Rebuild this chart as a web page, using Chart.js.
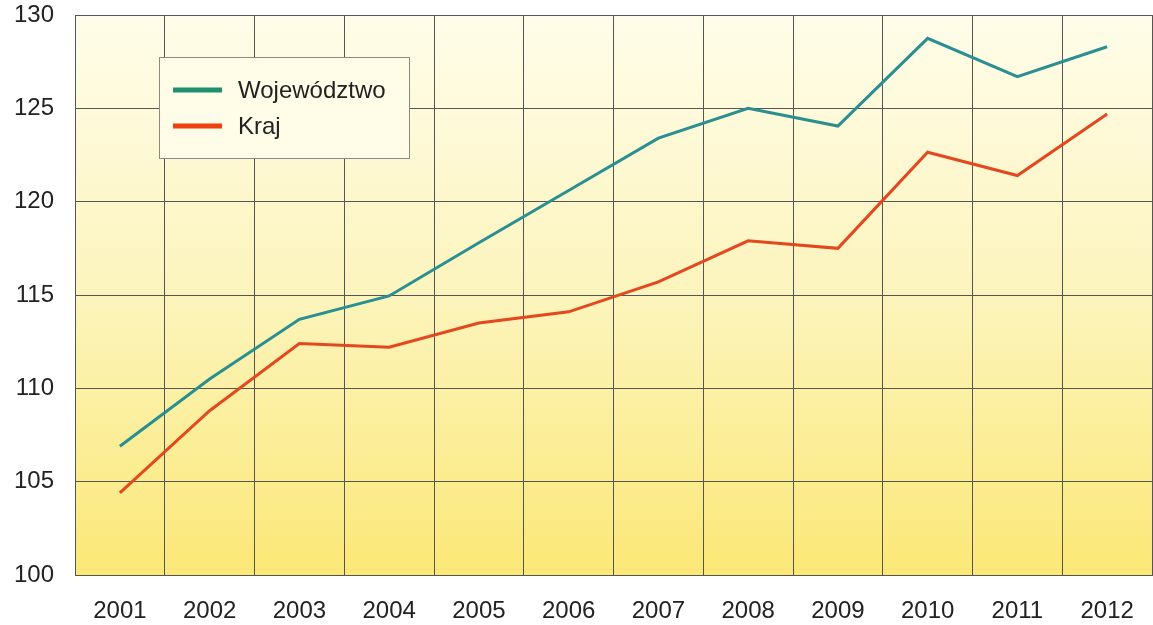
<!DOCTYPE html>
<html>
<head>
<meta charset="utf-8">
<script src="https://cdn.jsdelivr.net/npm/chart.js@4/dist/chart.umd.min.js"></script>
<style>
  html, body { margin: 0; padding: 0; background: #fff; }
  #wrap { width: 1153px; height: 625px; }
</style>
</head>
<body>
<div id="wrap"><canvas id="chart"></canvas></div>
<script>
const years = ['2001', '2002', '2003', '2004', '2005', '2006', '2007', '2008', '2009', '2010', '2011', '2012'];
const wojewodztwo = [106.9, 110.5, 113.7, 114.95, 117.8, 120.6, 123.4, 125.0, 124.05, 128.75, 126.7, 128.3];
const kraj = [104.4, 108.8, 112.4, 112.2, 113.5, 114.1, 115.7, 117.9, 117.5, 122.65, 121.4, 124.7];
const yTicks = [100, 105, 110, 115, 120, 125, 130];

const FONT = '"Liberation Sans", Arial, sans-serif';

// plot background: cream at the top, yellow at the bottom
const plotBackground = {
  id: 'plotBackground',
  beforeDraw(chart) {
    const { ctx, chartArea: a } = chart;
    const g = ctx.createLinearGradient(0, a.top, 0, a.bottom);
    g.addColorStop(0, '#fffdea');
    g.addColorStop(0.5, '#fcf4bc');
    g.addColorStop(1, '#fbe877');
    ctx.save();
    ctx.fillStyle = g;
    ctx.fillRect(a.left, a.top, a.right - a.left, a.bottom - a.top);
    ctx.restore();
  }
};

// boxed legend inside the plot
const boxLegend = {
  id: 'boxLegend',
  afterDatasetsDraw(chart) {
    const ctx = chart.ctx;
    const x = 159, y = 57, w = 250, h = 101;
    ctx.save();
    ctx.fillStyle = '#fffde8';
    ctx.strokeStyle = '#8a8a80';
    ctx.lineWidth = 1;
    ctx.fillRect(x, y, w, h);
    ctx.strokeRect(x + 0.5, y + 0.5, w, h);
    const colors = ['#1f8f70', '#ee4010'];
    chart.data.datasets.forEach((ds, i) => {
      const ly = 90 + i * 36;
      ctx.fillStyle = colors[i];
      ctx.fillRect(173, ly - 2.5, 49, 5);
      ctx.fillStyle = '#222';
      ctx.font = '24px ' + FONT;
      ctx.textBaseline = 'middle';
      ctx.fillText(ds.label, 238, ly + 1);
    });
    ctx.restore();
  }
};

new Chart(document.getElementById('chart'), {
  type: 'line',
  data: {
    labels: years,
    datasets: [
      {
        label: 'Województwo',
        data: wojewodztwo,
        borderColor: '#2a8f90',
        borderWidth: 3,
        pointRadius: 0,
        tension: 0
      },
      {
        label: 'Kraj',
        data: kraj,
        borderColor: '#e4481e',
        borderWidth: 3,
        pointRadius: 0,
        tension: 0
      }
    ]
  },
  options: {
    responsive: true,
    maintainAspectRatio: false,
    animation: false,
    layout: { padding: { top: 15, right: 1, left: 0, bottom: 0 } },
    plugins: {
      legend: { display: false },
      tooltip: { enabled: false }
    },
    scales: {
      x: {
        offset: true,
        grid: { offset: true, color: '#555', lineWidth: 1, drawTicks: false },
        border: { color: '#555' },
        ticks: { color: '#222', font: { family: FONT, size: 24 }, padding: 22, maxRotation: 0 },
        afterFit(scale) {
          scale.height = 50;
          scale.paddingLeft = 0;
          scale.paddingRight = 0;
        }
      },
      y: {
        min: 100,
        max: 130,
        afterBuildTicks(scale) { scale.ticks = yTicks.map(v => ({ value: v })); },
        grid: { color: '#555', lineWidth: 1, drawTicks: false },
        border: { color: '#555' },
        ticks: { color: '#222', font: { family: FONT, size: 24 }, padding: 21 },
        afterFit(scale) {
          scale.width = 75;
          scale.paddingTop = 0;
          scale.paddingBottom = 0;
        }
      }
    }
  },
  plugins: [plotBackground, boxLegend]
});
</script>
</body>
</html>
